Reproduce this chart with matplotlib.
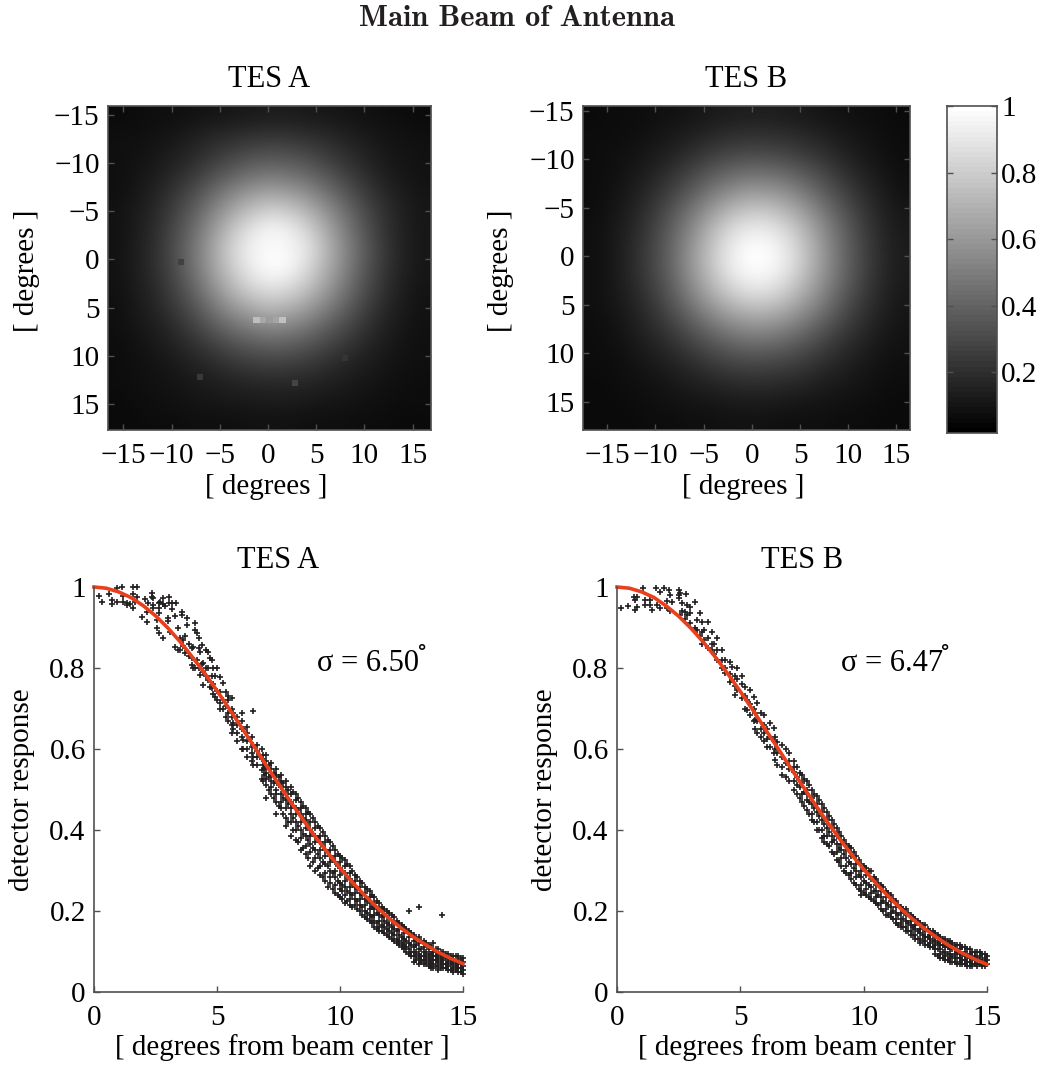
import numpy as np
import matplotlib
matplotlib.use('Agg')
import matplotlib.pyplot as plt

W, H = 1049, 1067

# beam maps (percent of peak), coarse grid
map_a = [
    [2,3,4,4,5,6,7,8,9,9,8,7,6,5,4,3,2],
    [4,4,5,7,10,13,15,17,18,18,16,14,11,8,6,5,4],
    [4,5,7,10,14,19,24,28,30,29,26,21,16,12,8,6,5],
    [4,6,9,14,20,28,35,41,44,42,38,31,23,16,10,7,5],
    [4,7,12,19,28,39,50,58,62,60,53,43,32,22,14,9,6],
    [5,9,14,24,35,50,64,75,82,79,70,56,42,28,18,11,7],
    [5,9,16,27,41,58,76,89,97,94,83,66,48,32,19,11,7],
    [5,10,17,29,44,63,82,95,98,97,90,71,52,35,21,12,7],
    [5,10,17,28,43,61,79,92,100,98,85,68,50,33,20,11,7],
    [5,9,15,25,38,55,71,83,89,86,76,61,45,30,18,10,6],
    [4,8,13,21,31,45,58,67,73,70,62,50,37,25,15,9,5],
    [4,7,10,16,24,34,43,50,54,52,46,37,28,19,12,7,5],
    [3,5,8,12,17,23,30,34,37,36,32,26,20,14,9,6,4],
    [3,4,6,8,12,15,19,22,24,23,21,17,13,10,7,5,4],
    [3,4,5,6,8,10,12,13,14,14,13,11,9,7,5,4,3],
    [2,3,4,5,6,7,8,8,9,9,8,7,6,5,4,3,3],
    [2,2,3,3,4,4,4,5,5,5,4,4,4,3,3,2,2],
]
map_b = [
    [2,3,3,4,5,6,8,9,10,10,9,8,6,5,4,3,2],
    [3,3,4,5,8,10,13,16,17,17,16,14,11,8,6,4,3],
    [3,4,5,8,11,16,21,25,27,27,25,21,17,12,8,5,3],
    [3,4,7,11,17,24,32,38,42,42,39,33,26,18,12,7,4],
    [3,5,9,15,23,33,44,53,59,59,55,46,35,25,16,10,5],
    [3,6,11,19,30,43,57,70,77,78,71,60,46,32,21,12,7],
    [4,7,13,22,35,50,68,83,92,92,85,71,54,38,24,14,8],
    [4,7,14,24,37,55,73,90,99,100,92,77,58,40,26,15,9],
    [4,7,14,24,37,55,73,90,99,99,92,76,58,40,26,15,9],
    [4,7,13,22,34,50,67,81,90,91,83,69,53,37,24,14,8],
    [4,6,11,18,29,42,56,67,74,75,69,58,45,31,20,12,7],
    [3,5,9,15,22,32,42,51,56,57,52,44,34,24,16,10,6],
    [3,4,7,11,16,23,30,36,40,40,37,31,24,17,12,7,5],
    [3,3,5,8,11,15,20,24,26,26,24,21,16,12,8,5,4],
    [2,3,4,5,7,10,12,15,16,16,15,13,10,8,6,4,3],
    [2,2,3,4,5,6,7,8,9,9,8,7,6,5,4,3,2],
    [2,2,2,3,3,4,4,5,5,5,4,4,4,3,3,2,2],
]

# bright single pixels on the TES A map
hot_x = [-1.2, -0.5, 0.2, 0.8, 1.5, 2.8, -7.06, 8.0, -9.0]
hot_y = [6.3, 6.3, 6.3, 6.3, 6.3, 12.85, 12.2, 10.2, 0.3]
hot_v = [0.75, 0.66, 0.62, 0.65, 0.76, 0.28, 0.24, 0.22, 0.27]

# fitted curves
fit_x = [0,.5,1,1.5,2,2.5,3,3.5,4,4.5,5,5.5,6,6.5,7,7.5,8,8.5,9,9.5,10,10.5,11,11.5,12,12.5,13,13.5,14,14.5,15]
fit_a = [1,.997,.988,.974,.954,.929,.899,.865,.827,.787,.744,.699,.653,.607,.560,.514,.469,.425,.383,.344,.306,.271,.239,.209,.182,.157,.135,.116,.098,.083,.070]
fit_b = [1,.997,.988,.974,.953,.928,.898,.864,.826,.785,.742,.697,.650,.604,.557,.511,.466,.422,.380,.340,.303,.268,.236,.206,.179,.155,.133,.113,.096,.081,.068]

# scatter points, grouped by column: (x, [y, ...])
points_a = [
    (.22,[.978]),(.31,[.962]),(.62,[.983]),(.72,[.968,.957]),(.95,[.997,.962]),(1.12,[1.0]),
    (1.19,[.978,.962]),(1.33,[.96,.955]),(1.45,[.958]),(1.57,[1.0]),(1.6,[.983,.947]),(1.67,[.962]),(1.76,[1.0,.976]),
    (1.94,[.927]),(2.07,[.97]),(2.14,[.939,.914]),(2.21,[.96]),(2.34,[.986,.975]),(2.41,[.972,.955]),(2.38,[.947]),
    (2.55,[.919,.90]),(2.64,[.947,.935,.96]),(2.65,[.887]),(2.68,[.964]),(2.79,[.873]),(2.82,[.972,.958]),(2.89,[.953]),
    (3.02,[.923,.915]),(3.06,[.976,.96]),(3.09,[.89]),(3.16,[.96,.945]),(3.29,[.928,.851]),(3.33,[.961]),(3.4,[.845,.90]),
    (3.5,[.844,.875]),(3.56,[.939,.93]),(3.63,[.869,.855]),(3.7,[.836,.88]),(3.77,[.923,.906]),(3.85,[.83,.86]),
    (3.97,[.807,.85,.825]),(4.04,[.853,.80]),(4.1,[.91,.799,.895]),(4.17,[.886,.82]),(4.25,[.80,.875,.85]),(4.31,[.783,.84]),
    (4.38,[.857,.81]),(4.44,[.812,.758,.79]),(4.55,[.845,.78,.80]),(4.65,[.84,.77,.80]),(4.71,[.754,.825]),(4.78,[.82,.75,.78]),
    (4.85,[.799,.76,.735]),(4.92,[.729,.78]),(4.99,[.742,.80,.72]),(5.12,[.779,.713,.74,.70]),(5.26,[.762,.72,.70]),(5.35,[.74,.705,.68]),
    (5.46,[.688,.72,.67,.73]),(5.6,[.725,.70,.66,.64,.68]),(5.66,[.663,.69,.65]),(5.8,[.639,.66,.68,.62]),(6.0,[.688,.65,.63,.60,.67]),
    (6.07,[.622,.60,.65]),(6.2,[.64,.62,.60,.58,.655]),(6.41,[.606,.63,.59,.57]),(6.48,[.694,.61,.58,.56]),(6.61,[.581,.61,.56,.595]),
    (6.82,[.548,.60,.575,.525]),(6.88,[.522,.585,.56]),
    (7.0,[.585,.57,.555,.54,.525,.51,.478]),(7.2,[.565,.55,.535,.52,.505,.49]),(7.4,[.55,.535,.52,.50,.49,.47,.44]),
    (7.6,[.535,.52,.505,.49,.47,.455]),(7.8,[.52,.505,.49,.475,.455,.43,.41]),(8.0,[.505,.49,.47,.455,.44,.42,.385]),
    (8.2,[.49,.475,.455,.44,.42,.40,.375]),(8.4,[.47,.455,.44,.42,.40,.38,.35]),(8.6,[.455,.44,.425,.405,.385,.36,.34]),
    (8.8,[.44,.42,.40,.385,.365,.345,.31]),(9.0,[.42,.405,.385,.37,.35,.33,.30]),(9.2,[.405,.385,.37,.35,.33,.31,.29]),
    (9.4,[.385,.37,.35,.335,.315,.295,.275]),(9.6,[.37,.35,.335,.32,.30,.285,.27]),(9.8,[.35,.335,.32,.30,.285,.265,.245]),
    (10.0,[.335,.32,.305,.29,.27,.255,.235]),(10.2,[.325,.31,.295,.275,.26,.24,.22]),(10.4,[.31,.295,.28,.26,.245,.23,.215]),
    (10.6,[.29,.275,.26,.245,.23,.215]),(10.8,[.275,.26,.245,.23,.215,.20]),(11.0,[.26,.245,.23,.215,.20,.185]),
    (11.2,[.25,.235,.22,.205,.19,.175]),(11.4,[.235,.22,.205,.19,.175,.16]),(11.6,[.22,.205,.19,.175,.16,.15]),
    (11.8,[.205,.19,.175,.16,.145]),(12.0,[.195,.18,.165,.15,.135]),(12.2,[.185,.17,.155,.14,.125]),
    (12.4,[.17,.155,.14,.125,.115]),(12.6,[.16,.145,.13,.115,.105]),(12.8,[.15,.135,.12,.105,.095,.20]),
    (13.0,[.14,.125,.11,.10,.09,.075]),(13.2,[.135,.12,.105,.095,.085,.07,.21]),(13.4,[.125,.11,.10,.09,.08,.07]),
    (13.6,[.115,.105,.095,.085,.075,.065]),(13.8,[.12,.10,.09,.08,.07,.06]),(14.0,[.105,.095,.085,.075,.065,.055]),
    (14.15,[.19]),(14.2,[.10,.09,.08,.07,.06]),(14.4,[.095,.085,.075,.065,.055]),(14.6,[.09,.08,.07,.06,.05]),
    (14.8,[.09,.08,.07,.06,.05]),(15.0,[.085,.075,.065,.055,.045]),
    # in between columns, where the band is solid
    (6.9,[.57,.55,.535]),(7.1,[.56,.53,.50]),(7.3,[.54,.515,.48]),(7.5,[.53,.51,.46]),(7.7,[.515,.48,.44]),(7.9,[.50,.465,.42]),
    (8.1,[.495,.46,.43,.40]),(8.3,[.48,.45,.41,.37]),(8.5,[.46,.43,.39,.355]),(8.7,[.445,.41,.375,.33]),(8.9,[.43,.39,.355,.32]),
    (9.1,[.41,.38,.34,.305]),(9.3,[.395,.36,.32,.285]),(9.5,[.375,.345,.31,.26]),(9.7,[.36,.325,.295,.255]),(9.9,[.34,.31,.275,.24]),
    (10.1,[.33,.30,.265,.23,.25]),(10.3,[.315,.285,.25,.225]),(10.5,[.30,.27,.24,.21]),(10.7,[.285,.255,.225,.205]),(10.9,[.27,.24,.21,.19]),
    (11.1,[.255,.225,.195,.18]),(11.3,[.24,.21,.185,.17]),(11.5,[.225,.195,.17,.155]),(11.7,[.21,.185,.165,.15]),(11.9,[.20,.17,.155,.14]),
    (12.1,[.19,.16,.145,.13]),(12.3,[.175,.15,.13,.12]),(12.5,[.165,.135,.12,.11]),(12.7,[.155,.125,.11,.10]),(12.9,[.145,.115,.10,.09]),
    (13.1,[.13,.115,.10,.09,.08]),(13.3,[.125,.105,.09,.08,.075]),(13.5,[.12,.10,.09,.08,.07]),(13.7,[.11,.095,.08,.07,.06]),(13.9,[.105,.09,.08,.065]),
    (14.1,[.10,.09,.08,.07,.06]),(14.3,[.095,.085,.07,.06]),(14.5,[.09,.08,.07,.055]),(14.7,[.09,.075,.065,.055]),(14.9,[.085,.075,.06,.05]),
]
points_b = [
    (.15,[.947]),(.46,[.953]),(.67,[.976]),(.73,[.968,.943]),(.8,[.976,.95]),(1.04,[.997]),(1.14,[.968,.956]),
    (1.34,[.968,.956]),(1.41,[.943]),(1.59,[.997]),(1.64,[.956]),(1.75,[.988,.947]),(1.91,[.997]),(2.02,[.947,.965]),(2.09,[.993]),
    (2.16,[.98,.94]),(2.22,[.964]),(2.5,[.993,.972,.98]),(2.56,[.984,.93]),(2.63,[.96,.94]),(2.77,[.939,.92]),(2.81,[.983]),
    (2.83,[.956,.93]),(2.97,[.935,.91,.95]),(3.17,[.962,.90]),(3.24,[.919,.895]),(3.37,[.935,.88]),(3.44,[.914,.89,.86]),
    (3.51,[.894,.87]),(3.67,[.914,.875,.85]),(3.85,[.89,.86,.845]),(3.95,[.86,.835]),(4.05,[.873,.844,.82]),(4.26,[.844,.80,.82]),
    (4.39,[.787,.82,.80]),(4.59,[.816,.785,.765]),(4.66,[.803,.77]),(4.8,[.733,.78,.755]),(4.87,[.774,.80,.745]),(5.05,[.76,.725,.78]),
    (5.2,[.754,.70,.73]),(5.27,[.696,.72]),(5.4,[.71,.745,.685]),(5.54,[.729,.70,.67]),(5.61,[.672,.69,.65]),(5.68,[.713,.67,.64]),
    (5.85,[.69,.65,.63]),(5.95,[.684,.639,.66,.62]),(6.1,[.65,.625,.605]),(6.22,[.606,.665,.63]),(6.36,[.651,.62,.59]),
    (6.42,[.573,.60,.63]),(6.49,[.618,.59,.56]),(6.7,[.556,.61,.58,.535]),(6.85,[.60,.565,.53]),(6.97,[.589,.55,.52,.57]),
    (7.17,[.544,.57,.52,.50,.555]),(7.3,[.555,.53,.51,.49]),(7.5,[.535,.515,.49,.47]),(7.7,[.52,.50,.475,.45,.49]),
    (7.9,[.50,.48,.465,.44,.425]),(8.1,[.485,.465,.445,.42,.40]),(8.3,[.465,.445,.425,.40,.38]),(8.5,[.445,.425,.405,.385,.365]),
    (8.7,[.425,.405,.385,.37,.345]),(8.9,[.405,.385,.365,.345,.325]),(9.1,[.385,.365,.35,.33,.31]),(9.3,[.365,.35,.33,.31,.295]),
    (9.5,[.355,.335,.315,.295,.28]),(9.7,[.335,.315,.30,.285,.265]),(9.9,[.315,.30,.285,.265,.25,.24]),(10.1,[.305,.29,.27,.255,.24]),
    (10.3,[.30,.28,.26,.245,.23]),(10.5,[.28,.265,.25,.235,.22]),(10.7,[.265,.25,.235,.22,.205]),(10.9,[.25,.235,.22,.205,.19]),
    (11.1,[.24,.225,.21,.195,.185]),(11.3,[.225,.21,.195,.18,.17]),(11.5,[.21,.195,.18,.17,.16]),(11.7,[.205,.19,.175,.16,.15]),
    (11.9,[.19,.175,.165,.15,.14]),(12.1,[.18,.165,.155,.14,.13]),(12.3,[.17,.155,.145,.13,.12]),(12.5,[.165,.15,.135,.125,.115]),
    (12.7,[.15,.14,.13,.12,.11]),(12.9,[.145,.135,.125,.115,.105,.095]),(13.1,[.135,.125,.115,.105,.095,.085]),
    (13.3,[.13,.12,.11,.10,.09,.08]),(13.5,[.125,.115,.105,.095,.085,.075]),(13.7,[.115,.105,.095,.085,.075]),
    (13.9,[.115,.105,.095,.085,.075,.07]),(14.1,[.11,.10,.09,.08,.07]),(14.3,[.105,.095,.085,.075,.065]),
    (14.5,[.10,.09,.08,.07]),(14.7,[.10,.09,.08,.07]),(14.9,[.095,.085,.075,.065]),(15.0,[.09,.08,.07]),
    # in between columns, where the band is solid
    (7.4,[.54,.505,.48]),(7.6,[.525,.495,.46]),(7.8,[.51,.47,.44]),(8.0,[.49,.455,.42]),(8.2,[.475,.435,.40]),(8.4,[.455,.415,.385,.37]),
    (8.6,[.435,.395,.36]),(8.8,[.415,.375,.34]),(9.0,[.395,.355,.32]),(9.2,[.375,.34,.30]),(9.4,[.36,.32,.29]),(9.6,[.345,.305,.27]),
    (9.8,[.325,.29,.255]),(10.0,[.31,.275,.245]),(10.2,[.30,.265,.235]),(10.4,[.285,.25,.225]),(10.6,[.27,.24,.215]),(10.8,[.26,.225,.20]),
    (11.0,[.245,.215,.19]),(11.2,[.23,.20,.18]),(11.4,[.215,.19,.165]),(11.6,[.205,.18,.16]),(11.8,[.195,.17,.15]),(12.0,[.185,.16,.14]),
    (12.2,[.175,.15,.13]),(12.4,[.165,.14,.125]),(12.6,[.155,.135,.115]),(12.8,[.15,.125,.11]),(13.0,[.14,.12,.105,.09]),(13.2,[.13,.115,.10,.085]),
    (13.4,[.125,.11,.095,.08]),(13.6,[.12,.105,.09,.075]),(13.8,[.115,.10,.085,.07]),(14.0,[.11,.095,.08,.07]),(14.2,[.105,.09,.075,.065]),
    (14.4,[.10,.085,.07,.065]),(14.6,[.10,.085,.07,.065]),(14.8,[.095,.08,.07,.065]),
]

deg_ticks = [-15, -10, -5, 0, 5, 10, 15]
sigma_labels = ['σ = 6.50', 'σ = 6.47']
SPINE = '#505050'
INK = '#231f20'
FS = 21


def px_axes(fig, left, top, right, bottom):
    return fig.add_axes([left / W, 1 - bottom / H, (right - left) / W, (bottom - top) / H])


def style(ax):
    for s in ax.spines.values():
        s.set_color(SPINE)
        s.set_linewidth(1.2)
    ax.tick_params(direction='in', length=4, width=1, color=SPINE, labelsize=FS)
    ax.tick_params(axis='x', pad=9.5)
    ax.tick_params(axis='y', pad=6)


def beam_map(fig, box, data, xlim, ylim, title):
    ax = px_axes(fig, *box)
    ax.imshow(np.array(data) / 100.0, cmap='gray', vmin=-0.02, vmax=1, aspect='auto',
              interpolation='bicubic', extent=[xlim[0], xlim[1], ylim[1], ylim[0]])
    ax.set_xlim(xlim)
    ax.set_ylim(ylim[1], ylim[0])
    ax.set_xticks(deg_ticks)
    ax.set_yticks(deg_ticks)
    ax.set_xlabel('[ degrees ]', fontsize=FS, va='center')
    ax.xaxis.set_label_coords(0.49, -0.176)
    ax.set_ylabel('[ degrees ]', fontsize=FS, va='center')
    ax.yaxis.set_label_coords(-0.25, 0.49)
    ax.set_title(title, fontsize=22, pad=14)
    style(ax)
    ax.tick_params(top=True, right=True)
    return ax


def response(fig, box, points, fit, title, label):
    ax = px_axes(fig, *box)
    px = [c[0] for c in points for _ in c[1]]
    py = [v for c in points for v in c[1]]
    ax.plot(px, py, '+', color=INK, markersize=4.5, markeredgewidth=1.2, clip_on=False)
    ax.plot(fit_x, fit, color='#e8401c', linewidth=2.6, clip_on=False)
    ax.set_xlim(0, 15)
    ax.set_ylim(0, 1)
    ax.set_xticks([0, 5, 10, 15])
    ax.set_yticks([0, .2, .4, .6, .8, 1])
    ax.set_yticklabels(['0', '0.2', '0.4', '0.6', '0.8', '1'])
    ax.spines['top'].set_visible(False)
    ax.spines['right'].set_visible(False)
    ax.set_xlabel('[ degrees from beam center ]', fontsize=FS, va='center')
    ax.xaxis.set_label_coords(0.51, -0.136)
    ax.set_ylabel('detector response', fontsize=FS, va='center')
    ax.yaxis.set_label_coords(-0.195, 0.5)
    ax.set_title(title, fontsize=22, pad=14)
    style(ax)
    ax.text(9.07, 0.81, label, fontsize=22, va='center')
    ax.text(13.3, 0.855, r'$\circ$', fontsize=17, ha='center', va='center')
    return ax


def main():
    plt.rcParams['font.family'] = ['Liberation Serif', 'DejaVu Serif']
    plt.rcParams['mathtext.fontset'] = 'stix'

    fig = plt.figure(figsize=(W / 100, H / 100), dpi=100)

    fig.text(517 / W, 1 - 26 / H, 'Main Beam of Antenna', family='cmb10', fontsize=22,
             color=INK, ha='center', va='baseline')

    ax_a = beam_map(fig, (108, 106, 431, 430), map_a, (-16.6, 16.9), (-15.9, 17.7), 'TES A')
    ax_a.scatter(hot_x, hot_y, c=hot_v, cmap='gray', vmin=0.018, vmax=1, marker='s', s=20, linewidths=0)
    beam_map(fig, (583, 106, 910, 430), map_b, (-17.5, 16.4), (-15.5, 17.9), 'TES B')

    # colour bar, 64 grey steps like the map
    cax = px_axes(fig, 947, 106, 997, 433)
    levels = np.linspace(1, 0.018, 64).reshape(-1, 1)
    cax.imshow(levels, cmap='gray', vmin=0.018, vmax=1, aspect='auto', interpolation='nearest',
               extent=[0, 1, 0.018, 1])
    cax.set_xticks([])
    cax.yaxis.tick_right()
    cax.set_yticks([.2, .4, .6, .8, 1])
    cax.set_yticklabels(['0.2', '0.4', '0.6', '0.8', '1'])
    style(cax)
    cax.tick_params(left=True, right=True)
    cax.tick_params(axis='y', pad=3)

    response(fig, (94, 587, 463, 992), points_a, fit_a, 'TES A', sigma_labels[0])
    response(fig, (617, 587, 987, 992), points_b, fit_b, 'TES B', sigma_labels[1])

    fig.savefig('out.png', dpi=100)


if __name__ == '__main__':
    main()
